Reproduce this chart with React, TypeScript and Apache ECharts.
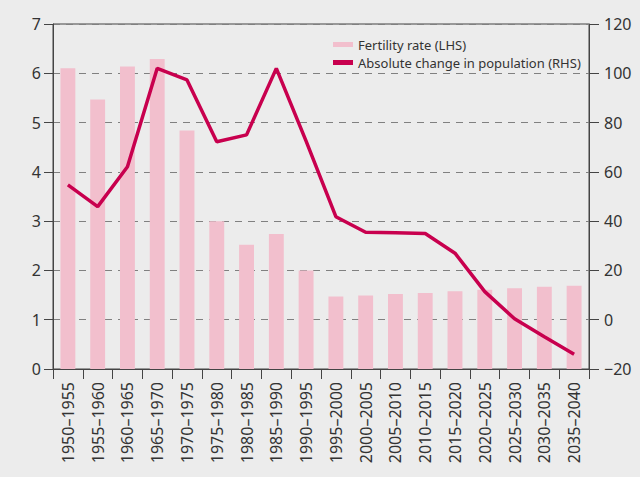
import React, { useEffect, useRef } from "react";
import * as echarts from "echarts";

const categories = [
  "1950–1955", "1955–1960", "1960–1965", "1965–1970", "1970–1975", "1975–1980",
  "1980–1985", "1985–1990", "1990–1995", "1995–2000", "2000–2005", "2005–2010",
  "2010–2015", "2015–2020", "2020–2025", "2025–2030", "2030–2035", "2035–2040",
];
const fertilityRate = [6.1, 5.47, 6.14, 6.29, 4.84, 3.0, 2.52, 2.74, 2.0, 1.47, 1.49, 1.52, 1.54, 1.58, 1.61, 1.64, 1.67, 1.69];
const populationChange = [54.7, 45.9, 62.1, 102, 97.3, 72.2, 75, 102, 72.5, 41.8, 35.5, 35.3, 35, 27, 11.4, 0.4, -6.9, -14];

const FONT = "Noto Sans";
const TEXT = "#333";

export default function App() {
  const ref = useRef<HTMLDivElement>(null);
  useEffect(() => {
    if (!ref.current) return;
    const chart = echarts.init(ref.current, undefined, { renderer: "svg" });
    chart.setOption({
      animation: false,
      backgroundColor: "#ececec",
      textStyle: { fontFamily: FONT, color: TEXT },
      grid: {
        left: 53, right: 51, top: 24, bottom: 108, containLabel: false,
        show: true, borderColor: "#444", borderWidth: 1, backgroundColor: "transparent",
      },
      legend: {
        orient: "vertical", left: 328, top: 33, itemGap: 5,
        icon: "rect", itemWidth: 20, itemHeight: 5,
        textStyle: { fontFamily: FONT, fontSize: 13, color: TEXT },
        data: ["Fertility rate (LHS)", "Absolute change in population (RHS)"],
      },
      xAxis: {
        type: "category",
        data: categories,
        boundaryGap: true,
        axisLine: { show: true, lineStyle: { color: "#444", width: 1 } },
        axisTick: { show: true, length: 10, lineStyle: { color: "#444" } },
        axisLabel: { rotate: 90, margin: 13, fontSize: 16, color: TEXT, fontFamily: FONT, interval: 0 },
      },
      yAxis: [
        {
          type: "value", min: 0, max: 7, interval: 1,
          axisLine: { show: true, lineStyle: { color: "#444" } },
          axisTick: { show: true, length: 9, lineStyle: { color: "#444" } },
          axisLabel: { margin: 12, fontSize: 16, color: TEXT, fontFamily: FONT },
          splitLine: { show: true, lineStyle: { color: "#808080", type: [7, 6], width: 1 } },
        },
        {
          type: "value", min: -20, max: 120, interval: 20,
          axisLine: { show: true, lineStyle: { color: "#444" } },
          axisTick: { show: true, length: 10, lineStyle: { color: "#444" } },
          axisLabel: {
            margin: 15, fontSize: 16, color: TEXT, fontFamily: FONT,
            formatter: (v: number) => String(v).replace("-", "−"),
          },
          splitLine: { show: false },
        },
      ],
      series: [
        {
          name: "Fertility rate (LHS)",
          type: "bar",
          yAxisIndex: 0,
          data: fertilityRate,
          barWidth: "50%",
          itemStyle: { color: "#f2bfcd" },
        },
        {
          name: "Absolute change in population (RHS)",
          type: "line",
          yAxisIndex: 1,
          data: populationChange,
          showSymbol: false,
          symbol: "none",
          lineStyle: { color: "#c8004e", width: 3.5 },
          itemStyle: { color: "#c8004e" },
        },
      ],
    });
    return () => chart.dispose();
  }, []);
  return <div ref={ref} style={{ width: 640, height: 477, position: "absolute", left: 0, top: 0 }} />;
}
